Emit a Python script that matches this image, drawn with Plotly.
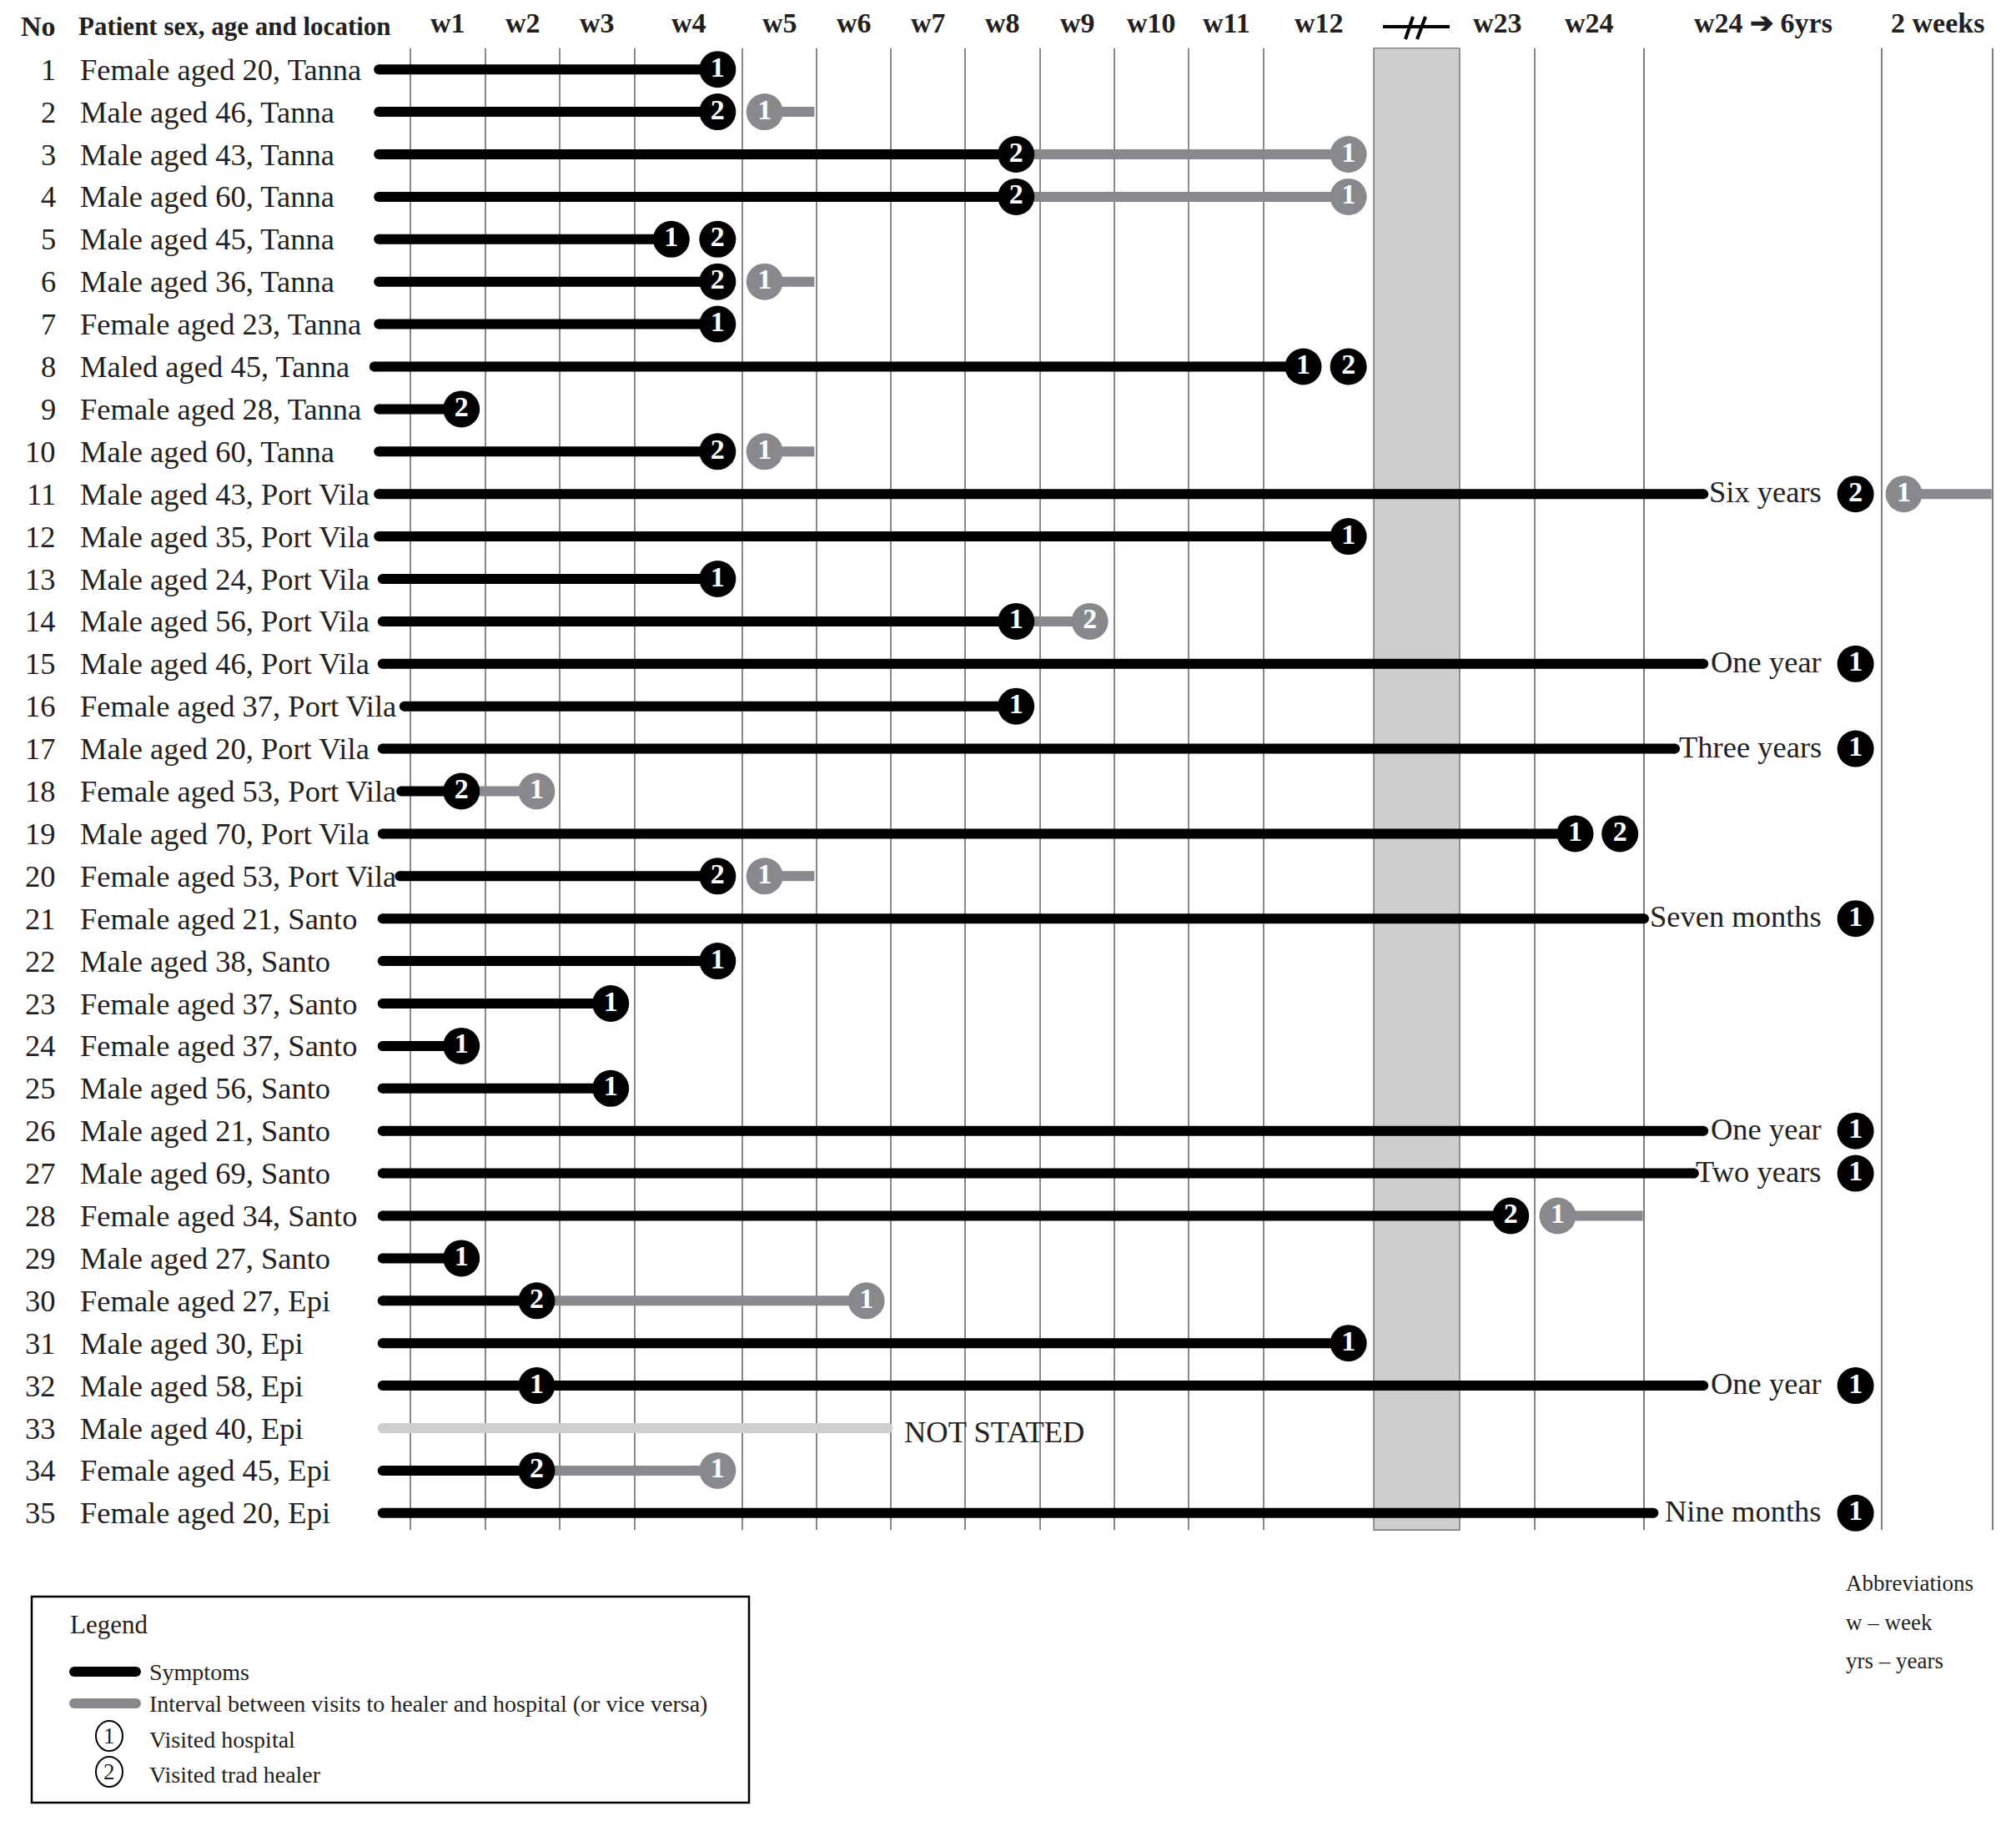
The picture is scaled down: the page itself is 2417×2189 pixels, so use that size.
import numpy as np
import plotly.graph_objects as go

# ---------------- data ----------------
patient_no = list(range(1, 36))
patient_labels = [
    "Female aged 20, Tanna", "Male aged 46, Tanna", "Male aged 43, Tanna", "Male aged 60, Tanna",
    "Male aged 45, Tanna", "Male aged 36, Tanna", "Female aged 23, Tanna", "Maled aged 45, Tanna",
    "Female aged 28, Tanna", "Male aged 60, Tanna", "Male aged 43, Port Vila", "Male aged 35, Port Vila",
    "Male aged 24, Port Vila", "Male aged 56, Port Vila", "Male aged 46, Port Vila", "Female aged 37, Port Vila",
    "Male aged 20, Port Vila", "Female aged 53, Port Vila", "Male aged 70, Port Vila", "Female aged 53, Port Vila",
    "Female aged 21, Santo", "Male aged 38, Santo", "Female aged 37, Santo", "Female aged 37, Santo",
    "Male aged 56, Santo", "Male aged 21, Santo", "Male aged 69, Santo", "Female aged 34, Santo",
    "Male aged 27, Santo", "Female aged 27, Epi", "Male aged 30, Epi", "Male aged 58, Epi",
    "Male aged 40, Epi", "Female aged 45, Epi", "Female aged 20, Epi",
]

column_labels = ["w1", "w2", "w3", "w4", "w5", "w6", "w7", "w8", "w9", "w10", "w11", "w12",
                 "", "w23", "w24", "w24 \u2794 6yrs", "2 weeks"]

# timeline values in column units: 0 = start of w1, every column spans one unit
# (column 12 is the break between w12 and w23)
symptom_start = [-0.42, -0.42, -0.42, -0.42, -0.42, -0.42, -0.42, -0.48, -0.42, -0.42,
                 -0.42, -0.42, -0.37, -0.37, -0.37, -0.08, -0.37, -0.12, -0.37, -0.14,
                 -0.37, -0.37, -0.37, -0.37, -0.37, -0.37, -0.37, -0.37, -0.37, -0.37,
                 -0.37, -0.37, -0.37, -0.37, -0.37]
symptom_end = [3.77, 3.77, 7.68, 7.68, 3.34, 3.77, 3.77, 11.36, 0.68, 3.77,
               15.25, 11.77, 3.77, 7.68, 15.25, 7.68, 15.13, 0.68, 14.37, 3.77,
               15.00, 3.77, 2.68, 0.68, 2.68, 15.25, 15.21, 13.68, 0.68, 1.69,
               11.77, 15.25, 5.96, 1.69, 15.04]
duration_stated = [True] * 32 + [False] + [True] * 2

interval_start = [None, 4.30, 7.68, 7.68, None, 4.30, None, None, None, 4.30,
                  16.20, None, None, 7.68, None, None, None, 0.68, None, 4.30,
                  None, None, None, None, None, None, None, 14.21, None, 1.69,
                  None, None, None, 1.69, None]
interval_end = [None, 4.97, 11.77, 11.77, None, 4.97, None, None, None, 4.97,
                16.99, None, None, 8.67, None, None, None, 1.69, None, 4.97,
                None, None, None, None, None, None, None, 14.99, None, 5.67,
                None, None, None, 3.77, None]

visit_pos = [[3.77], [3.77, 4.30], [7.68, 11.77], [7.68, 11.77], [3.34, 3.77],
             [3.77, 4.30], [3.77], [11.36, 11.77], [0.68], [3.77, 4.30],
             [15.89, 16.20], [11.77], [3.77], [7.68, 8.67], [15.89],
             [7.68], [15.89], [0.68, 1.69], [14.37, 14.78], [3.77, 4.30],
             [15.89], [3.77], [2.68], [0.68], [2.68],
             [15.89], [15.89], [13.68, 14.21], [0.68], [1.69, 5.67],
             [11.77], [1.69, 15.89], [], [1.69, 3.77], [15.89]]
# 1 = visited hospital, 2 = visited traditional healer
visit_code = [[1], [2, 1], [2, 1], [2, 1], [1, 2],
              [2, 1], [1], [1, 2], [2], [2, 1],
              [2, 1], [1], [1], [1, 2], [1],
              [1], [1], [2, 1], [1, 2], [2, 1],
              [1], [1], [1], [1], [1],
              [1], [1], [2, 1], [1], [2, 1],
              [1], [1, 1], [], [2, 1], [1]]
# "S" = visit on the symptom line (black), "I" = visit linked to the interval (grey)
visit_stage = [["S"], ["S", "I"], ["S", "I"], ["S", "I"], ["S", "S"],
               ["S", "I"], ["S"], ["S", "S"], ["S"], ["S", "I"],
               ["S", "I"], ["S"], ["S"], ["S", "I"], ["S"],
               ["S"], ["S"], ["S", "I"], ["S", "S"], ["S", "I"],
               ["S"], ["S"], ["S"], ["S"], ["S"],
               ["S"], ["S"], ["S", "I"], ["S"], ["S", "I"],
               ["S"], ["S", "S"], [], ["S", "I"], ["S"]]
end_note = ["", "", "", "", "", "", "", "", "", "",
            "Six years", "", "", "", "One year", "", "Three years", "", "", "",
            "Seven months", "", "", "", "", "One year", "Two years", "", "", "",
            "", "One year", "NOT STATED", "", "Nine months"]

legend_items = ["Symptoms", "Interval between visits to healer and hospital (or vice versa)",
                "Visited hospital", "Visited trad healer"]
abbreviations = ["Abbreviations", "w \u2013 week", "yrs \u2013 years"]

# ---------------- layout constants ----------------
W, H = 2417, 2189
COL_EDGES = [492, 582, 671, 761, 890, 979, 1068, 1157, 1247, 1336, 1425, 1515,
             1647, 1750, 1840, 1971, 2256, 2389]
ROW0, STEP = 83.2, 50.9
FONT = "Liberation Serif"
INK = "#231f20"
GREY = "#88898c"
LIGHT = "#cdcecf"
BAND = "#cdced0"


def tx(v):
    if v is None:
        return None
    if v < 0:
        return COL_EDGES[0] + v * (COL_EDGES[1] - COL_EDGES[0])
    return float(np.interp(v, np.arange(len(COL_EDGES)), COL_EDGES))


def ry(p):
    return 1 + (p - ROW0) / STEP


fig = go.Figure()

# bars
bx, by, gx, gy, lx, ly, capx, capy, lcapx, lcapy = ([] for _ in range(10))
for i, r in enumerate(patient_no):
    s, e = tx(symptom_start[i]), tx(symptom_end[i])
    if duration_stated[i]:
        bx += [s, e, None]; by += [r, r, None]
        capx += [s, e]; capy += [r, r]
    else:
        lx += [s, e, None]; ly += [r, r, None]
        lcapx += [s, e]; lcapy += [r, r]
    if interval_start[i] is not None:
        gx += [tx(interval_start[i]), tx(interval_end[i]), None]; gy += [r, r, None]

fig.add_trace(go.Scatter(x=lx, y=ly, mode="lines", line=dict(color=LIGHT, width=12), hoverinfo="skip"))
fig.add_trace(go.Scatter(x=lcapx, y=lcapy, mode="markers", marker=dict(color=LIGHT, size=12), hoverinfo="skip"))
fig.add_trace(go.Scatter(x=bx, y=by, mode="lines", line=dict(color="black", width=12), hoverinfo="skip"))
fig.add_trace(go.Scatter(x=gx, y=gy, mode="lines", line=dict(color=GREY, width=12), hoverinfo="skip"))
fig.add_trace(go.Scatter(x=capx, y=capy, mode="markers", marker=dict(color="black", size=12), hoverinfo="skip"))

# visit circles
for stage, col in (("S", "black"), ("I", GREY)):
    vx, vy, vt = [], [], []
    for i, r in enumerate(patient_no):
        for p, c, st in zip(visit_pos[i], visit_code[i], visit_stage[i]):
            if st == stage:
                vx.append(tx(p)); vy.append(r); vt.append(str(c))
    fig.add_trace(go.Scatter(
        x=vx, y=vy, mode="markers+text", text=vt, textposition="middle center",
        marker=dict(color=col, size=44, line=dict(width=0)),
        textfont=dict(family=FONT, size=34, color="white", weight="bold"),
        hoverinfo="skip"))

shapes = []
# break band
shapes.append(dict(type="rect", xref="x", yref="y", x0=COL_EDGES[12], x1=COL_EDGES[13],
                   y0=0.5, y1=35.4, fillcolor=BAND, line=dict(color="#5a5a5a", width=1.2), layer="below"))
# grid lines
for k, xe in enumerate(COL_EDGES):
    if k in (12, 13):
        continue
    right = k >= 15
    shapes.append(dict(type="line", xref="x", yref="y", x0=xe, x1=xe, y0=0.5, y1=35.4,
                       line=dict(color="#7d7d7d" if right else "#4a4a4a", width=2 if right else 1.3),
                       layer="below"))
# break symbol
shapes.append(dict(type="line", xref="x", yref="y", x0=1658, x1=1738, y0=ry(32), y1=ry(32),
                   line=dict(color="black", width=4)))
for xa, xb in ((1685, 1694), (1699, 1709)):
    shapes.append(dict(type="line", xref="x", yref="y", x0=xa, x1=xb, y0=ry(47), y1=ry(20),
                       line=dict(color="black", width=4)))
# legend box
shapes.append(dict(type="rect", xref="x", yref="y", x0=38, x1=898, y0=ry(1914), y1=ry(2161),
                   line=dict(color="black", width=2.5), fillcolor="rgba(0,0,0,0)"))
for yy, col in ((2004, "black"), (2042, GREY)):
    shapes.append(dict(type="line", xref="x", yref="y", x0=89, x1=163, y0=ry(yy), y1=ry(yy),
                       line=dict(color=col, width=12)))
    for xc in (89, 163):
        shapes.append(dict(type="circle", xref="x", yref="y", x0=xc - 6, x1=xc + 6,
                           y0=ry(yy - 6), y1=ry(yy + 6), fillcolor=col, line=dict(width=0)))
for yy in (2081, 2124):
    shapes.append(dict(type="circle", xref="x", yref="y", x0=131 - 16, x1=131 + 16,
                       y0=ry(yy - 18), y1=ry(yy + 18), line=dict(color="black", width=2)))

ann = []


def add(x, y, text, size, xa="left", bold=False, color=INK):
    f = dict(family=FONT, size=size, color=color)
    if bold:
        f["weight"] = "bold"
    ann.append(dict(x=x, y=y, xref="x", yref="y", text=text, showarrow=False,
                    xanchor=xa, yanchor="middle", font=f))


# header
add(69, ry(31), "No", 34, "right", True)
add(92, ry(31), "Patient sex, age and location", 31, "left", True)
for k, lab in enumerate(column_labels):
    if lab:
        add((COL_EDGES[k] + COL_EDGES[k + 1]) / 2, ry(27), lab, 34, "center", True)

# rows
for i, r in enumerate(patient_no):
    add(69, r, str(r), 36.5, "right")
    add(94, r, patient_labels[i], 36.5, "left")
    if end_note[i]:
        if duration_stated[i]:
            add(2186, r - 0.05, end_note[i], 36.5, "right")
        else:
            add(tx(symptom_end[i]) + 18, r + 0.08, end_note[i], 36.5, "left")

# legend
add(82, ry(1947), "Legend", 31)
for yy, t in zip((2004, 2042, 2085, 2127), legend_items):
    add(177, ry(yy), t, 28)
for yy, d in ((2081, "1"), (2124, "2")):
    add(131, ry(yy), d, 27, "center")

# abbreviations
for yy, t in zip((1898, 1945, 1991), abbreviations):
    add(2211, ry(yy), t, 27)

fig.update_layout(
    width=W, height=H, margin=dict(l=0, r=0, t=0, b=0),
    paper_bgcolor="white", plot_bgcolor="white", showlegend=False,
    xaxis=dict(range=[0, W], visible=False, fixedrange=True),
    yaxis=dict(range=[ry(H), ry(0)], visible=False, fixedrange=True),
    shapes=shapes, annotations=ann,
)
fig.write_html("out.html", config={"displayModeBar": False},
               post_script="document.body.style.margin='0';")
